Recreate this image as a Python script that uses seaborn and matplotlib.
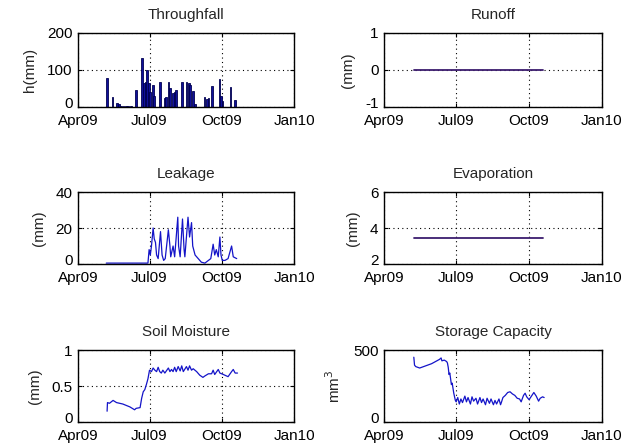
import numpy as np
import pandas as pd
import matplotlib
matplotlib.use("Agg")
import matplotlib.pyplot as plt
import matplotlib.transforms as mtransforms
import seaborn as sns

sns.set_style("white")
plt.rcParams['font.family'] = ['Liberation Sans', 'DejaVu Sans']
plt.rcParams['axes.unicode_minus'] = False

START = pd.Timestamp("2009-04-01")
tick_dates = ["2009-04-01", "2009-07-01", "2009-10-01", "2010-01-01"]
tick_labels = ["Apr09", "Jul09", "Oct09", "Jan10"]

# Throughfall (days after 1 Apr 2009, mm)
tf_day = [37, 44, 50, 52, 55, 58, 61, 64, 67, 74, 81, 84, 86, 88, 90, 92, 95, 97,
          104, 110, 112, 115, 117, 121, 123, 125, 132, 138, 141, 143, 146, 149,
          161, 164, 166, 171, 180, 182, 184, 194, 200]
tf_val = [78, 28, 12, 7, 4, 3, 4, 3, 4, 45, 132, 65, 68, 100, 65, 40, 60, 30,
          67, 25, 28, 67, 50, 38, 40, 45, 68, 68, 65, 60, 42, 8,
          28, 22, 25, 57, 75, 30, 15, 55, 18]

# Runoff
ro_day = [38, 201]
ro_val = [0, 0]

# Leakage
lk_day = [36, 89, 90.5, 92, 93.5, 95.6, 97, 98.6, 100, 102, 105, 107, 109, 111, 115,
          117, 118, 121, 123, 127, 128, 130, 133, 135, 136, 140, 142, 144.5, 146,
          149, 153, 157, 161.5, 166, 169, 172, 174, 176, 178.5, 180.6, 182, 183.6,
          187, 191, 195.5, 197.6, 202]
lk_val = [0.5, 0.5, 8, 5, 10, 20, 14, 12, 5, 3, 18, 5, 2, 3, 19,
          10, 4, 10, 4, 26, 10, 4, 25, 8, 4, 26, 15, 23, 10,
          5, 3, 1, 0.5, 2, 3, 11, 5, 8, 4, 15, 5, 2,
          2, 3, 10, 4, 3]

# Evaporation
ev_day = [38, 201]
ev_val = [3.45, 3.45]

# Soil moisture
sm_day = [37, 37.5, 40, 44.6, 49, 57, 66, 72, 74, 79, 81, 83, 85, 87, 89, 91, 93.5,
          95.6, 97.8, 100, 102, 104, 106, 108, 110.5, 115, 117, 119, 121, 123, 125,
          127.5, 130, 132, 134, 138, 140, 142, 144.5, 146.6, 151, 155, 159, 161.5,
          166, 170, 172, 174, 178.5, 180.6, 185, 191, 195.5, 197.6, 200, 203]
sm_val = [0.15, 0.27, 0.26, 0.3, 0.27, 0.25, 0.21, 0.17, 0.19, 0.2, 0.33, 0.42,
          0.45, 0.52, 0.6, 0.72, 0.7, 0.75, 0.72, 0.7, 0.76, 0.7, 0.68, 0.72,
          0.68, 0.75, 0.7, 0.73, 0.7, 0.76, 0.7, 0.77, 0.71, 0.78, 0.7, 0.77,
          0.72, 0.78, 0.72, 0.74, 0.7, 0.65, 0.62, 0.64, 0.67, 0.67, 0.72, 0.66,
          0.73, 0.68, 0.66, 0.63, 0.7, 0.73, 0.68, 0.68]

# Storage capacity
sc_day = [37.6, 38.5, 40, 45, 50, 55, 60, 65, 70, 72, 73, 76, 79, 80, 81, 82, 83,
          84, 85, 86, 88, 90, 91, 93, 95, 97, 99, 102, 104, 106, 109, 111, 113,
          116, 118, 121, 123, 125, 128, 130, 133, 135, 138, 140, 142, 145, 147,
          148, 150, 153, 156, 159, 162, 165, 168, 171, 173, 176, 178, 180, 183,
          186, 189, 192, 195, 197, 200, 202]
sc_val = [450, 395, 385, 375, 385, 395, 405, 420, 435, 445, 425, 430, 420, 410,
          380, 330, 340, 300, 260, 270, 200, 150, 140, 170, 125, 160, 135, 180,
          140, 170, 125, 175, 145, 165, 125, 170, 135, 160, 120, 165, 130, 160,
          120, 150, 125, 160, 120, 135, 170, 185, 205, 210, 195,
          185, 165, 160, 140, 185, 200, 175, 155, 180, 205, 180, 145, 165, 175, 170]


def to_dates(days):
    return START + pd.to_timedelta(np.asarray(days, dtype=float), unit="D")


fig = plt.figure(figsize=(6.38, 4.48), dpi=100)
lefts = [0.1223, 0.6019]
widths = [0.3386, 0.3417]
rows = [(0.7612, 0.1652), (0.4107, 0.1607), (0.058, 0.1607)]

panels = [
    ("Throughfall", "h(mm)", (0, 200), [0, 100, 200], None),
    ("Runoff", "(mm)", (-1, 1), [-1, 0, 1], None),
    ("Leakage", "(mm)", (0, 40), [0, 20, 40], None),
    ("Evaporation", "(mm)", (2, 6), [2, 4, 6], None),
    ("Soil Moisture", "(mm)", (0, 1), [0, 0.5, 1], ["0", "0.5", "1"]),
    ("Storage Capacity", "mm$^3$", (0, 500), [0, 500], None),
]

blue = "#1414c8"
purple = "#3c1c6e"
FS = 11

axes = []
for i in range(len(panels)):
    r, c = divmod(i, 2)
    ax = fig.add_axes([lefts[c], rows[r][0], widths[c], rows[r][1]])
    axes.append(ax)

ax = axes[0]
ax.bar(to_dates(tf_day), tf_val, width=2.2, color="#10109a", edgecolor="#000050",
       linewidth=0.6, align="center")
sns.lineplot(x=to_dates(ro_day), y=ro_val, ax=axes[1], color=purple, linewidth=1.3,
             estimator=None, sort=False)
sns.lineplot(x=to_dates(lk_day), y=lk_val, ax=axes[2], color=blue, linewidth=0.9,
             estimator=None, sort=False)
sns.lineplot(x=to_dates(ev_day), y=ev_val, ax=axes[3], color=purple, linewidth=1.3,
             estimator=None, sort=False)
sns.lineplot(x=to_dates(sm_day), y=sm_val, ax=axes[4], color=blue, linewidth=0.9,
             estimator=None, sort=False)
sns.lineplot(x=to_dates(sc_day), y=sc_val, ax=axes[5], color=blue, linewidth=0.9,
             estimator=None, sort=False)

for ax, (title, ylab, ylim, yt, ytl) in zip(axes, panels):
    ax.set_xlim(pd.Timestamp(tick_dates[0]), pd.Timestamp(tick_dates[-1]))
    ax.set_xticks(pd.to_datetime(tick_dates))
    ax.set_xticklabels(tick_labels, fontsize=FS)
    ax.set_ylim(*ylim)
    ax.set_yticks(yt)
    if ytl is not None:
        ax.set_yticklabels(ytl, fontsize=FS)
    else:
        ax.set_yticklabels([str(v) for v in yt], fontsize=FS)
    ax.set_title(title, fontsize=11, pad=10)
    ax.set_ylabel(ylab, fontsize=FS, labelpad=7)
    ax.set_xlabel("")
    ax.grid(True, linestyle=(0, (1, 3)), color="black", linewidth=0.8)
    ax.tick_params(direction="in", length=3, width=0.8, colors="black",
                   labelsize=FS, bottom=True, left=True, top=True, right=True,
                   labeltop=False, labelright=False)
    ax.tick_params(axis="x", pad=5)
    ax.tick_params(axis="y", pad=4)
    # lift the lowest y tick label slightly so it clears the date labels
    low = ax.get_yticklabels()[0]
    low.set_transform(low.get_transform() +
                      mtransforms.ScaledTranslation(0, 3 / 72, fig.dpi_scale_trans))
    for s in ax.spines.values():
        s.set_color("black")
        s.set_linewidth(1.0)
    ax.set_facecolor("white")

fig.savefig("out.png", dpi=100, facecolor="white")
